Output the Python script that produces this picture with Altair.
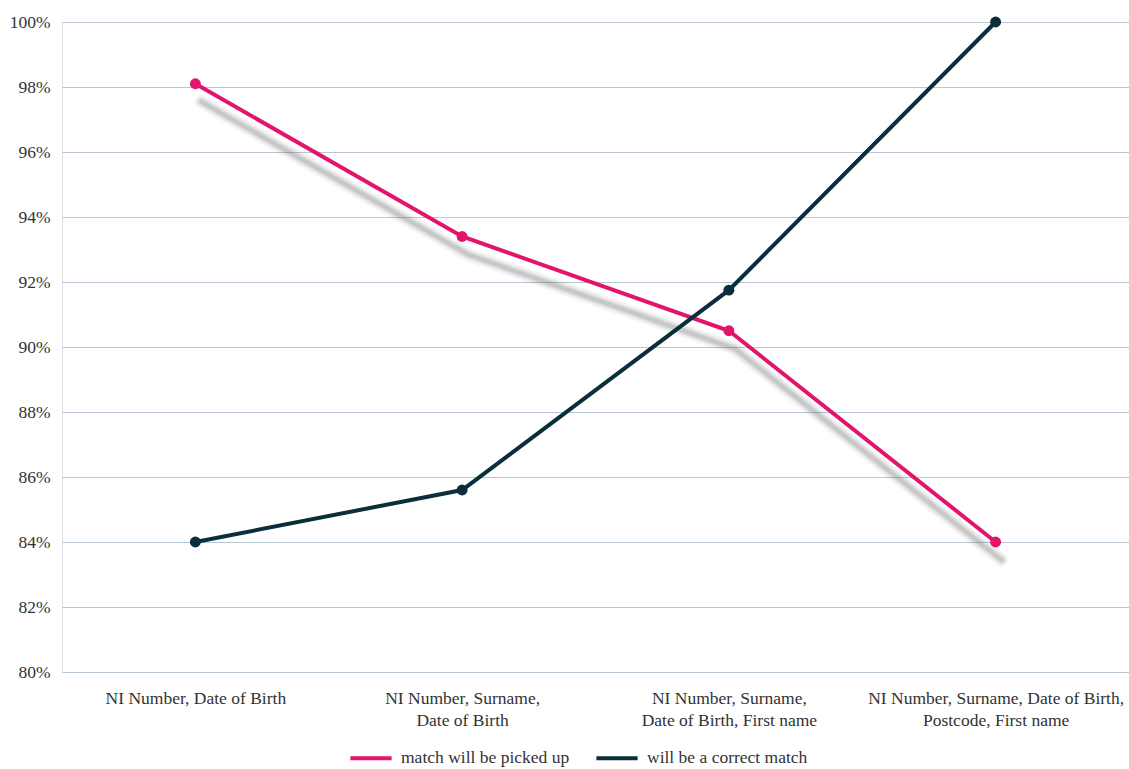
import altair as alt
import pandas as pd

categories = [
    "NI Number, Date of Birth",
    "NI Number, Surname,|Date of Birth",
    "NI Number, Surname,|Date of Birth, First name",
    "NI Number, Surname, Date of Birth,|Postcode, First name",
]
picked_up = [98.1, 93.4, 90.5, 84.0]
correct = [84.0, 85.6, 91.75, 100.0]
series_names = ["match will be picked up", "will be a correct match"]
colors = ["#e2146b", "#0a2e3b"]

rows = []
for c, v in zip(categories, picked_up):
    rows.append({"cat": c, "value": v / 100, "series": series_names[0]})
for c, v in zip(categories, correct):
    rows.append({"cat": c, "value": v / 100, "series": series_names[1]})
df = pd.DataFrame(rows)
shadow_df = df[df["series"] == series_names[0]]

FONT = "Liberation Serif, Georgia, serif"
FS = 17.5

x_enc = alt.X(
    "cat:N",
    sort=categories,
    scale=alt.Scale(type="point", padding=0.5),
    axis=alt.Axis(
        title=None, labelAngle=0, domain=False, ticks=False, grid=False,
        labelExpr="split(datum.label, '|')", labelFont=FONT, labelFontSize=FS,
        labelColor="#333333", labelPadding=17, labelLineHeight=22, labelLimit=0,
    ),
)
y_enc = alt.Y(
    "value:Q",
    scale=alt.Scale(domain=[0.8, 1.0], nice=False),
    axis=alt.Axis(
        title=None, format=".0%", values=[0.8, 0.82, 0.84, 0.86, 0.88, 0.9, 0.92, 0.94, 0.96, 0.98, 1.0],
        domain=False, ticks=False, gridColor="#b9c6d3", gridWidth=1.2,
        labelFont=FONT, labelFontSize=FS, labelColor="#333333", labelPadding=12,
    ),
)

shadows = []
for w, op in [(14, 0.05), (10, 0.07), (7, 0.1), (4, 0.14)]:
    shadows.append(
        alt.Chart(shadow_df).mark_line(
            color="#555555", strokeWidth=w, opacity=op, xOffset=6, yOffset=18, strokeCap="round"
        ).encode(x=x_enc, y=y_enc)
    )

color_scale = alt.Scale(domain=series_names, range=colors)

lines = alt.Chart(df).mark_line(strokeWidth=4).encode(
    x=x_enc, y=y_enc,
    color=alt.Color(
        "series:N", scale=color_scale,
        legend=alt.Legend(
            title=None, orient="none", direction="horizontal", legendX=286, legendY=713,
            symbolType="stroke", symbolStrokeWidth=4, symbolSize=1700,
            labelFont=FONT, labelFontSize=FS, labelColor="#333333",
            columnPadding=18, symbolOffset=0, labelOffset=7, labelLimit=0,
        ),
    ),
    detail="series:N",
)
points = alt.Chart(df).mark_circle(size=120, opacity=1).encode(
    x=x_enc, y=y_enc,
    color=alt.Color("series:N", scale=color_scale, legend=None),
)

chart = alt.layer(*shadows, lines, points).properties(
    width=1067, height=650,
    padding={"left": 62, "top": 22, "right": 0, "bottom": 97},
    autosize=alt.AutoSizeParams(type="none"),
).configure_view(stroke=None).configure(background="white")

chart.save("out.html", embed_options={"renderer": "svg", "actions": False})
